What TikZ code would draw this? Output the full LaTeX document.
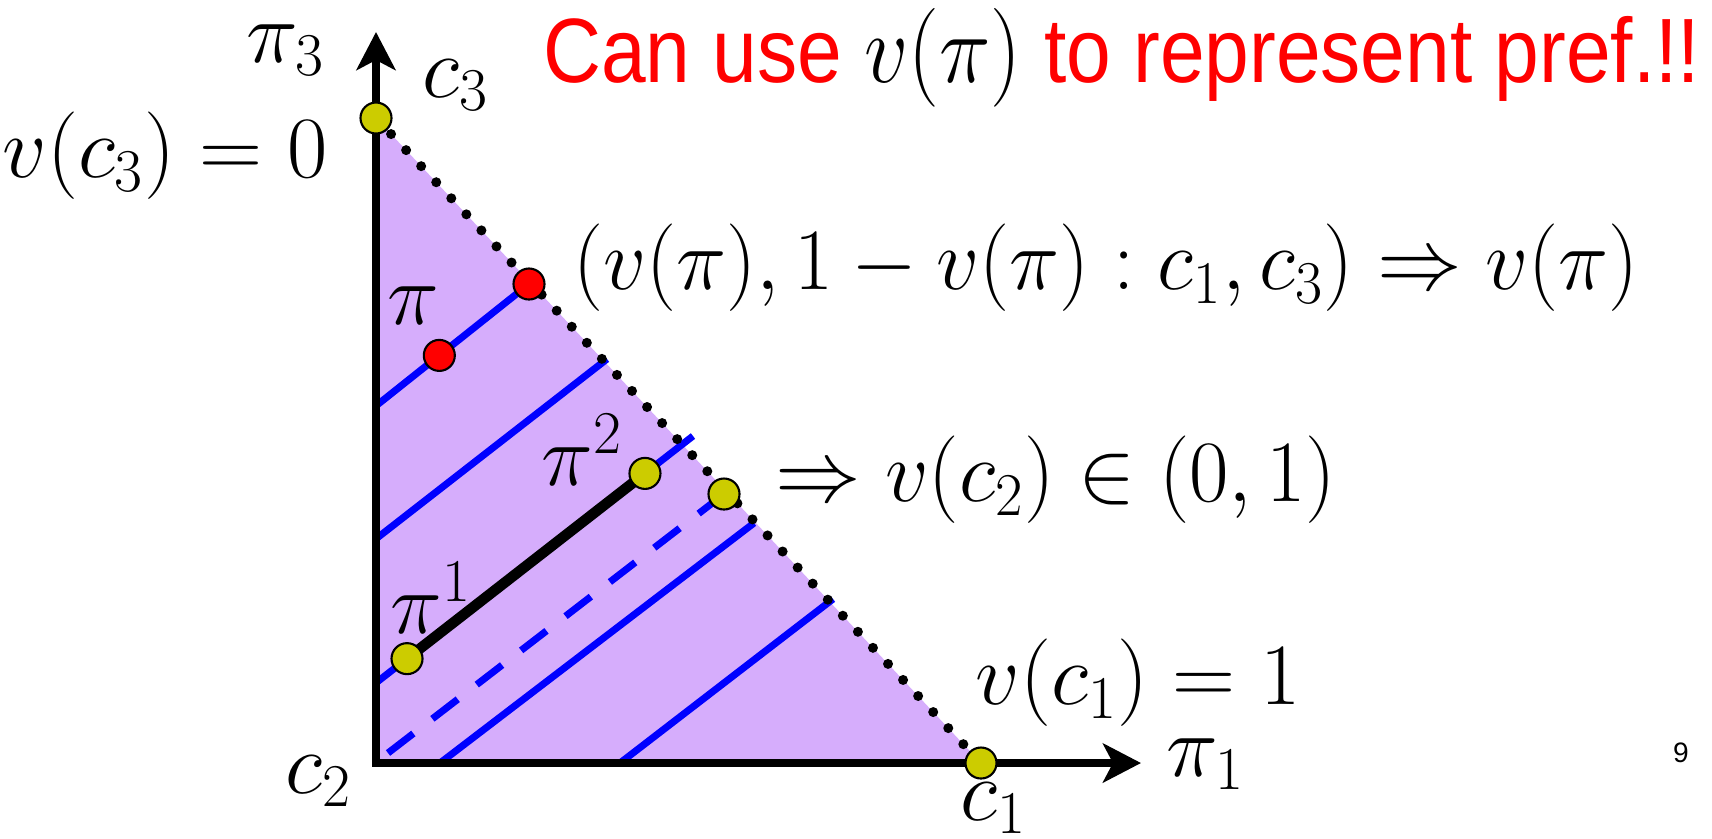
\documentclass[tikz,border=0pt]{standalone}
\usepackage{graphicx}
\usepackage{fontspec}
\newfontfamily\titlefont{Liberation Sans}
\usetikzlibrary{calc,arrows.meta}
\definecolor{simplex}{RGB}{214,173,252}
\definecolor{vertex}{RGB}{204,204,0}

\begin{document}
\begin{tikzpicture}[x=0.01cm,y=-0.01cm,
    every node/.style={font=\fontsize{23}{28}\selectfont, inner sep=0pt},
    axisline/.style={line width=2.1pt, line join=miter,
      {Stealth[length=3.8mm,width=3.9mm,inset=1mm]}-{Stealth[length=3.8mm,width=3.9mm,inset=1mm]}},
    indiff/.style={blue, line width=2pt},
    vtx/.style={fill=vertex, draw=black, line width=0.6pt},
    redpt/.style={fill=red, draw=black, line width=0.6pt}]
  \useasboundingbox (0,0) rectangle (1712,838);

  % simplex corners, axes tips
  \coordinate (O) at (376,763);
  \coordinate (C3) at (376,118);
  \coordinate (C1) at (981,763);
  \coordinate (Ytip) at (376,32);
  \coordinate (Xtip) at (1141,763);

  % indifference lines (ends)
  \coordinate (A1) at (377,405);  \coordinate (A2) at (529,284);
  \coordinate (B1) at (377,538);  \coordinate (B2) at (607,359);
  \coordinate (L1) at (377,682);  \coordinate (L2) at (693,436);
  \coordinate (D1) at (388,753);  \coordinate (D2) at (724,494);
  \coordinate (E1) at (440,763);  \coordinate (E2) at (754,523);
  \coordinate (F1) at (620,763);  \coordinate (F2) at (833,599);

  \coordinate (Pi) at ($(A1)!0.41!(A2)$);
  \coordinate (P1) at ($(L1)!0.095!(L2)$);
  \coordinate (P2) at ($(L1)!0.848!(L2)$);

  \fill[simplex] (O) -- (C3) -- (C1) -- cycle;

  \draw[indiff] (A1) -- (A2);
  \draw[indiff] (B1) -- (B2);
  \draw[indiff] (L1) -- (L2);
  \draw[indiff, dash pattern=on 3.2mm off 2.4mm] (D1) -- (D2);
  \draw[indiff] (E1) -- (E2);
  \draw[indiff] (F1) -- (F2);
  \draw[line width=3pt] (P1) -- (P2);

  \draw[line width=1mm, line cap=round, dash pattern=on 0pt off 2.2mm] (C3) -- (C1);
  \draw[axisline] (Ytip) -- (O) -- (Xtip);

  \fill[vtx] (C3) circle (1.55mm);
  \fill[vtx] (C1) circle (1.55mm);
  \fill[vtx] (P1) circle (1.55mm);
  \fill[vtx] (P2) circle (1.55mm);
  \fill[vtx] (D2) circle (1.55mm);
  \fill[redpt] (A2) circle (1.55mm);
  \fill[redpt] (Pi) circle (1.55mm);

  \node (lpi3) at (286,50) {$\pi_3$};
  \node (lc3) at (456,85) {$c_3$};
  \node[anchor=east] (lv3) at (328,156) {$v(c_3)=0$};
  \node[anchor=west] (lrep) at (573,268)
    {\scalebox{0.968}[1]{$\bigl(v(\pi),1-v(\pi):c_1,c_3\bigr)\Rightarrow v(\pi)$}};
  \node (lpi) at (413,306) {$\pi$};
  \node (lpi2) at (582,450) {$\pi^2$};
  \node[anchor=west] (lv2) at (775,480) {\scalebox{0.979}[1]{$\Rightarrow v(c_2)\in(0,1)$}};
  \node (lpi1) at (431,598) {$\pi^1$};
  \node[anchor=west] (lv1) at (975,683) {$v(c_1)=1$};
  \node (lc2) at (319,781) {$c_2$};
  \node (lc1) at (994,808) {$c_1$};
  \node (lpix) at (1206,764) {$\pi_1$};
  \node[font=\titlefont\fontsize{8}{10}\selectfont] (lpage) at (1681,753) {9};
  \node[anchor=east, red, font=\titlefont\fontsize{23}{28}\selectfont] (ltitle) at (1701,58)
    {\scalebox{0.993}[1.13]{Can use {\color{black}$v(\pi)$} to represent pref.!!}};
\end{tikzpicture}
\end{document}
